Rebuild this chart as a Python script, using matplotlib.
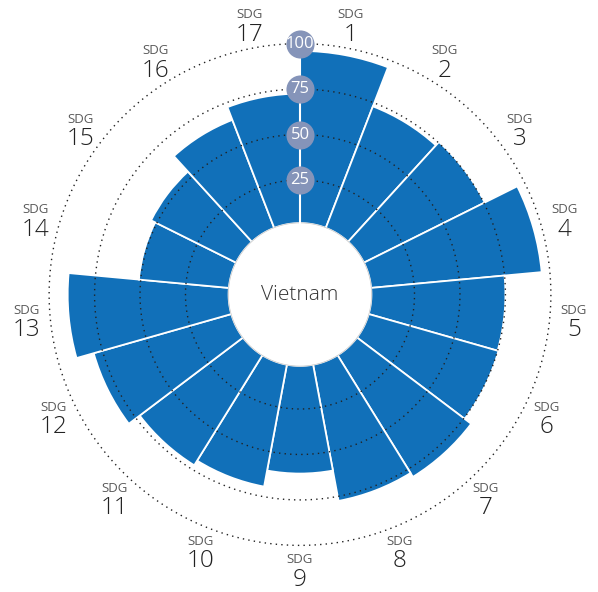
import numpy as np
import matplotlib
matplotlib.use("Agg")
import matplotlib.pyplot as plt
from matplotlib import font_manager

# prefer a light face if one is installed
light = None
for fam in ['Open Sans', 'Lato', 'Roboto', 'Noto Sans', 'Inter']:
    for f in font_manager.fontManager.ttflist:
        if f.name == fam and f.style == 'normal' and f.weight in (200, 300, 'light', 'extra-light'):
            light = fam
            break
    if light:
        break
if light is None:
    light = 'Open Sans'
plt.rcParams['font.family'] = [light, 'DejaVu Sans']

# SDG scores for Vietnam
goals = [str(i) for i in range(1, 18)]
scores = [96, 73, 75.5, 95.5, 75, 75.5, 80, 77.5, 60.5, 69.5, 72.5, 80, 89.8, 51, 53.5, 65, 72.5]
rings = [25, 50, 75, 100]
country = "Vietnam"

blue = "#1170b9"
badge = "#8594b9"

px = 1.818          # pixels per score unit
hole = 38           # radius of the empty centre, in score units
rmax = 296 / px

fig = plt.figure(figsize=(5.98, 5.92), dpi=100)
ax = fig.add_axes([(300 - 296) / 598, (592 - 294.5 - 296) / 592, 592 / 598, 592 / 592],
                  projection='polar')
ax.set_theta_zero_location('N')
ax.set_theta_direction(-1)
ax.set_ylim(0, rmax)
ax.axis('off')

n = len(goals)
w = 2 * np.pi / n
theta = np.arange(n) * w

ax.bar(theta, scores, width=w, bottom=hole, align='edge', color=blue,
       edgecolor='white', linewidth=1.3, zorder=2)

# dotted rings
t = np.linspace(0, 2 * np.pi, 720)
for v in rings:
    ax.plot(t, np.full_like(t, hole + v), color='#222222', lw=1.0,
            linestyle=(0, (1, 3)), zorder=3)

# white centre
ax.fill(t, np.full_like(t, hole + 1.4), color='white', zorder=4)
ax.plot(t, np.full_like(t, hole + 1.4), color='#c4c4c4', lw=0.5, zorder=4)
ax.text(0, 0, country, ha='center', va='center', fontsize=15, color='#333333',
        fontweight='light', zorder=6)

# axis line with value badges
ax.plot([0, 0], [hole, hole + 100], color='white', lw=1.5, zorder=4)
for v in rings:
    ax.scatter([0], [hole + v], s=410, color=badge, zorder=5, linewidths=0)
    ax.text(0, hole + v, str(v), ha='center', va='center', color='white',
            fontsize=12, fontweight='normal', zorder=6)

# goal labels
rlab = 275 / px
for th, g in zip(theta + w / 2, goals):
    ax.annotate('SDG', (th, rlab), xytext=(0, 7), textcoords='offset points',
                ha='center', va='center', fontsize=9.5, color='#5a5a5a',
                fontweight='normal')
    ax.annotate(g, (th, rlab), xytext=(0, -7.5), textcoords='offset points',
                ha='center', va='center', fontsize=17.5, color='#222222',
                fontweight='light')

fig.savefig('out.png', dpi=100)
